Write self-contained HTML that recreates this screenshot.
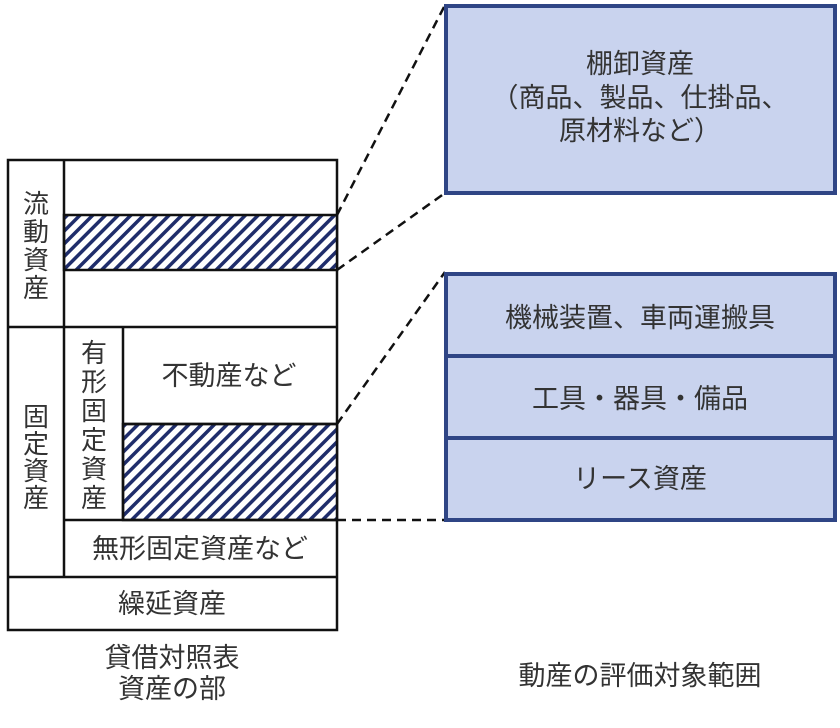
<!DOCTYPE html>
<html><head><meta charset="utf-8"><style>
body{margin:0;background:#fff;}
svg{display:block;font-family:"Liberation Sans","Noto Sans CJK JP",sans-serif;}
</style></head><body>
<svg width="840" height="728" viewBox="0 0 840 728" xmlns="http://www.w3.org/2000/svg">
<defs>
<pattern id="h" patternUnits="userSpaceOnUse" width="9" height="9" patternTransform="rotate(45)">
<rect width="9" height="9" fill="#fff"/>
<rect x="0" y="0" width="3.5" height="9" fill="#1f2d6b"/>
</pattern>
</defs>
<g stroke="#111" stroke-width="2.5" fill="#fff">
<rect x="8" y="160" width="329" height="470"/>
<rect x="64" y="215" width="273" height="55" fill="url(#h)"/>
<rect x="123" y="424" width="214" height="96" fill="url(#h)"/>
<line x1="64" y1="160" x2="64" y2="577"/>
<line x1="8" y1="327" x2="337" y2="327"/>
<line x1="123" y1="327" x2="123" y2="520"/>
<line x1="123" y1="424" x2="337" y2="424"/>
<line x1="64" y1="520" x2="337" y2="520"/>
<line x1="8" y1="577" x2="337" y2="577"/>
</g>
<g stroke="#111" stroke-width="2.5" stroke-dasharray="9,6" fill="none">
<line x1="337" y1="215" x2="445" y2="5"/>
<line x1="337" y1="270" x2="445" y2="193"/>
<line x1="337" y1="424" x2="445" y2="272"/>
<line x1="337" y1="520" x2="445" y2="520"/>
</g>
<g fill="#c9d3ee" stroke="#2f4585" stroke-width="4">
<rect x="446" y="6" width="389" height="187"/>
<rect x="446" y="274" width="389" height="246"/>
<line x1="446" y1="356" x2="835" y2="356"/>
<line x1="446" y1="438" x2="835" y2="438"/>
</g>
<g fill="#333" font-size="27" text-anchor="middle">
<text x="640" y="73">棚卸資産</text>
<text x="640" y="107">（商品、製品、仕掛品、</text>
<text x="640" y="140">原材料など）</text>
<text x="640" y="327">機械装置、車両運搬具</text>
<text x="640" y="408">工具・器具・備品</text>
<text x="640" y="488">リース資産</text>
</g>
<g fill="#333" font-size="26" text-anchor="middle">
<text x="36" y="213">流</text><text x="36" y="241">動</text><text x="36" y="269">資</text><text x="36" y="297">産</text>
<text x="36" y="426">固</text><text x="36" y="453">定</text><text x="36" y="480">資</text><text x="36" y="507">産</text>
<text x="94" y="362">有</text><text x="94" y="391">形</text><text x="94" y="420">固</text><text x="94" y="449">定</text><text x="94" y="478">資</text><text x="94" y="507">産</text>
</g>
<g fill="#333" font-size="27" text-anchor="middle">
<text x="229" y="385">不動産など</text>
<text x="200" y="558">無形固定資産など</text>
<text x="172" y="613">繰延資産</text>
<text x="172" y="667">貸借対照表</text>
<text x="172" y="698">資産の部</text>
<text x="640" y="685">動産の評価対象範囲</text>
</g>
</svg>
</body></html>
